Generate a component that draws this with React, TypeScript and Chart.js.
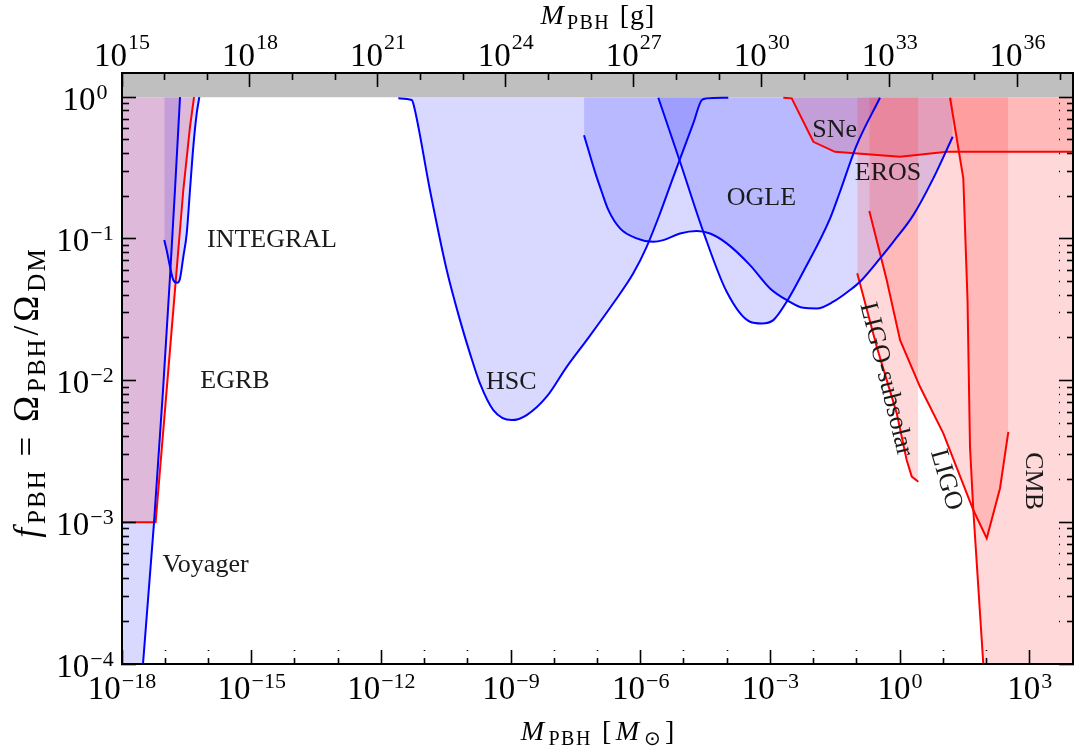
import React, { useEffect, useRef } from "react";
import { Chart, registerables } from "chart.js";

Chart.register(...registerables);

// ---------- axis ranges ----------
const X_MIN = 1e-18;
const X_MAX = 1e4;
const Y_MIN = 1e-4;
const Y_MAX = 1.48;
const GRAMS_PER_MSUN = 1.989e33;
const G_MIN = 1e15;

// ---------- tick definitions ----------
const xTickExps = [-18, -17, -16, -15, -14, -13, -12, -11, -10, -9, -8, -7, -6, -5, -4, -3, -2, -1, 0, 1, 2, 3, 4];
const xLabelExps = [-18, -15, -12, -9, -6, -3, 0, 3];
const gTickExps = [15, 16, 17, 18, 19, 20, 21, 22, 23, 24, 25, 26, 27, 28, 29, 30, 31, 32, 33, 34, 35, 36, 37];
const gLabelExps = [15, 18, 21, 24, 27, 30, 33, 36];
const yTickExps = [-4, -3, -2, -1];
const yTickMantissas = [1, 2, 3, 4, 5, 6, 7, 8, 9];
const yLabelExps = [-4, -3, -2, -1, 0];

// ---------- constraint curves (M in solar masses, f_PBH) ----------
const voyagerM = [3.06e-18, 5.5e-18, 8.9e-18, 1.29e-17, 1.68e-17, 2.2e-17];
const voyagerF = [1e-4, 9.9e-4, 8.6e-3, 0.054, 0.221, 1];

const egrbM = [1e-18, 6.0e-18, 1.08e-17, 1.68e-17, 2.62e-17, 3.74e-17, 4.64e-17];
const egrbF = [1e-3, 1e-3, 8.6e-3, 0.0435, 0.221, 0.617, 1];

const integralM = [9.5e-18, 1.08e-17, 1.29e-17, 1.54e-17, 1.9e-17, 2.2e-17, 2.62e-17, 3.14e-17, 3.74e-17, 4.46e-17, 5.35e-17, 6.14e-17];
const integralF = [0.098, 0.083, 0.0635, 0.0512, 0.049, 0.0526, 0.0747, 0.109, 0.221, 0.446, 0.767, 1];

const hscM = [2.47e-12, 5.04e-12, 5.48e-12, 1.33e-11, 3.25e-11, 6.59e-11, 1.12e-10, 1.91e-10, 3.89e-10, 1.04e-9, 2.3e-9, 6.68e-9, 1.94e-8, 5.62e-8, 2.32e-7, 6.73e-7, 1.37e-6, 2.79e-6, 5.68e-6, 9.66e-6, 1.64e-5, 2.58e-5, 3.36e-5, 1.06e-4];
const hscF = [0.98, 0.955, 0.903, 0.221, 0.0602, 0.0267, 0.01556, 9.55e-3, 6.19e-3, 5.26e-3, 5.71e-3, 7.69e-3, 0.0125, 0.0193, 0.0351, 0.0571, 0.0879, 0.151, 0.274, 0.423, 0.652, 0.953, 0.98, 0.99];

const ogleM = [2.55e-6, 8.11e-6, 2.81e-5, 9.75e-5, 3.37e-4, 6.3e-4, 1.17e-3, 2.38e-3, 5.77e-3, 0.0239, 0.0407, 0.099, 0.343];
const ogleF = [0.99, 0.35, 0.112, 0.0423, 0.026, 0.0253, 0.0267, 0.036, 0.0586, 0.139, 0.215, 0.458, 0.99];

const erosM = [4.88e-8, 8.75e-8, 1.25e-7, 1.78e-7, 3.32e-7, 8.07e-7, 1.95e-6, 3.33e-6, 8.11e-6, 1.97e-5, 4.01e-5, 9.75e-5, 3.37e-4, 9.8e-4, 2.38e-3, 5.77e-3, 0.01178, 0.0285, 0.0693, 0.118, 0.343, 0.697, 2.02, 5.86, 16.5];
const erosF = [0.539, 0.297, 0.215, 0.16, 0.1185, 0.1008, 0.0953, 0.098, 0.109, 0.1135, 0.109, 0.0929, 0.0653, 0.0447, 0.037, 0.0326, 0.0323, 0.036, 0.0435, 0.0498, 0.0728, 0.0953, 0.147, 0.267, 0.525];

const sneM = [1.99e-3, 3.11e-3, 9.84e-3, 0.0312, 1.0, 12.0, 1e4];
const sneF = [0.99, 0.98, 0.484, 0.411, 0.379, 0.411, 0.411];

const ligoSubM = [0.102, 0.288, 0.836, 1.42, 1.86, 2.64];
const ligoSubF = [0.0571, 0.0173, 5.87e-3, 2.75e-3, 2.1e-3, 1.93e-3];

const ligoM = [0.194, 0.49, 1.0, 2.89, 10.0, 49.4, 101, 205, 319];
const ligoF = [0.157, 0.0512, 0.0193, 9.04e-3, 4.24e-3, 1.22e-3, 7.7e-4, 1.74e-3, 4.35e-3];

const cmbM = [14.3, 29, 36.3, 41.4, 49.4, 84.1];
const cmbF = [0.99, 0.267, 0.037, 3.41e-3, 1.22e-3, 1e-4];

// ---------- region labels ----------
const regionLabels = [
  { text: "INTEGRAL", m: 2.95e-15, f: 0.088, rot: 0 },
  { text: "EGRB", m: 4.1e-16, f: 8.8e-3, rot: 0 },
  { text: "Voyager", m: 8.55e-17, f: 4.46e-4, rot: 0 },
  { text: "HSC", m: 1.01e-9, f: 8.67e-3, rot: 0 },
  { text: "OGLE", m: 6.2e-4, f: 0.173, rot: 0 },
  { text: "SNe", m: 0.0307, f: 0.525, rot: 0 },
  { text: "EROS", m: 0.525, f: 0.26, rot: 0 },
  { text: "LIGO-subsolar", m: 0.472, f: 0.0102, rot: 76 },
  { text: "LIGO", m: 11.5, f: 1.99e-3, rot: 74 },
  { text: "CMB", m: 1208, f: 1.95e-3, rot: 90 },
];

// ---------- styles ----------
const BLUE = "#0000ff";
const RED = "#ff0000";
const BLUE_FILL = "rgba(0,0,255,0.15)";
const RED_FILL = "rgba(255,0,0,0.15)";
const GRAY = "#bfbfbf";
const SERIF = '"Liberation Serif", "Times New Roman", serif';

const expOf = (v: number) => Math.round(Math.log10(v));
const isPow10 = (v: number) => Math.abs(Math.log10(v) - expOf(v)) < 1e-6;
const isMajor3 = (v: number) => isPow10(v) && expOf(v) % 3 === 0;

const pts = (ms: number[], fs: number[]) => ms.map((m, i) => ({ x: m, y: fs[i] }));

function fillSet(data: any[], color: string, order: number, smooth: boolean) {
  return {
    data,
    borderColor: "rgba(0,0,0,0)",
    borderWidth: 0,
    backgroundColor: color,
    fill: { value: 1 },
    pointRadius: 0,
    tension: 0,
    cubicInterpolationMode: smooth ? "monotone" : "default",
    order,
  };
}
function lineSet(data: any[], color: string, smooth: boolean) {
  return {
    data,
    borderColor: color,
    borderWidth: 2,
    backgroundColor: color,
    fill: false,
    pointRadius: 0,
    tension: 0,
    cubicInterpolationMode: smooth ? "monotone" : "default",
    order: 10,
  };
}

function buildDatasets() {
  const blue = [
    fillSet([{ x: X_MIN, y: Y_MIN }, ...pts(voyagerM, voyagerF)], BLUE_FILL, 50, false),
    fillSet(pts(integralM, integralF), BLUE_FILL, 50, true),
    fillSet(pts(hscM, hscF), BLUE_FILL, 50, true),
    fillSet(pts(ogleM, ogleF), BLUE_FILL, 50, true),
    fillSet(pts(erosM, erosF), BLUE_FILL, 50, true),
  ];
  const red = [
    fillSet(pts(egrbM, egrbF), RED_FILL, 40, false),
    fillSet(pts(sneM, sneF), RED_FILL, 40, false),
    fillSet(pts(ligoSubM, ligoSubF), RED_FILL, 40, false),
    fillSet(pts(ligoM, ligoF), RED_FILL, 40, false),
    fillSet([...pts(cmbM, cmbF), { x: X_MAX, y: Y_MIN }], RED_FILL, 40, false),
  ];
  const band = {
    data: [
      { x: X_MIN, y: Y_MAX },
      { x: X_MAX, y: Y_MAX },
    ],
    borderColor: "rgba(0,0,0,0)",
    borderWidth: 0,
    backgroundColor: GRAY,
    fill: { value: 1 },
    pointRadius: 0,
    order: 30,
  };
  const lines = [
    lineSet(pts(voyagerM, voyagerF), BLUE, false),
    lineSet(pts(integralM, integralF), BLUE, true),
    lineSet(pts(hscM, hscF), BLUE, true),
    lineSet(pts(ogleM, ogleF), BLUE, true),
    lineSet(pts(erosM, erosF), BLUE, true),
    lineSet(pts(egrbM, egrbF), RED, false),
    lineSet(pts(sneM, sneF), RED, false),
    lineSet(pts(ligoSubM, ligoSubF), RED, false),
    lineSet(pts(ligoM, ligoF), RED, false),
    lineSet(pts(cmbM, cmbF), RED, false),
  ];
  return [...blue, ...red, band, ...lines];
}

function gridOpts(isMajor: (v: number) => boolean, innerStart: boolean) {
  return {
    display: true,
    drawOnChartArea: false,
    drawTicks: true,
    tickLength: -14,
    tickWidth: 1.6,
    tickColor: "#000",
    z: 1,
    tickBorderDash: (c: any) => (c.tick && !isMajor(c.tick.value) ? [7, 7] : []),
    tickBorderDashOffset: (c: any) => (c.tick && !isMajor(c.tick.value) && innerStart ? 7 : 0),
  };
}
const borderOpts = { display: true, color: "#000", width: 2, z: 1 };
const hiddenTicks = { display: false, autoSkip: false, maxRotation: 0, minRotation: 0, padding: 0 };

// ---------- text helpers ----------
type Run = { t: string; font: string; dy: number; gap?: number };
function runsWidth(ctx: CanvasRenderingContext2D, runs: Run[], runGap: number) {
  let w = 0;
  runs.forEach((r, i) => {
    ctx.font = r.font;
    const g = r.gap || 0;
    for (const ch of r.t) w += ctx.measureText(ch).width + g;
    w -= g;
    if (i < runs.length - 1) w += runGap;
  });
  return w;
}
function drawRuns(ctx: CanvasRenderingContext2D, runs: Run[], cx: number, y: number, runGap: number) {
  let x = cx - runsWidth(ctx, runs, runGap) / 2;
  ctx.textAlign = "left";
  ctx.textBaseline = "alphabetic";
  runs.forEach((r, i) => {
    ctx.font = r.font;
    const g = r.gap || 0;
    const chars = Array.from(r.t);
    chars.forEach((ch, j) => {
      ctx.fillText(ch, x, y + r.dy);
      x += ctx.measureText(ch).width + (j < chars.length - 1 ? g : 0);
    });
    if (i < runs.length - 1) x += runGap;
  });
}

const BASE_FONT = `33px ${SERIF}`;
const SUP_FONT = `22px ${SERIF}`;
function drawPow(ctx: CanvasRenderingContext2D, e: number, x: number, baseY: number, raise: number, align: "center" | "right") {
  const base = "10";
  const ex = e < 0 ? "\u2212" + Math.abs(e) : String(e);
  ctx.font = BASE_FONT;
  const wb = ctx.measureText(base).width;
  ctx.font = SUP_FONT;
  const we = ctx.measureText(ex).width;
  const total = wb + 1 + we;
  const x0 = align === "center" ? x - total / 2 : x - total;
  ctx.textAlign = "left";
  ctx.textBaseline = "alphabetic";
  ctx.font = BASE_FONT;
  ctx.fillText(base, x0, baseY);
  ctx.font = SUP_FONT;
  ctx.fillText(ex, x0 + wb + 1, baseY - raise);
}

const tickLabelPlugin = {
  id: "tickLabels",
  afterDraw(chart: any) {
    const ctx = chart.ctx as CanvasRenderingContext2D;
    const a = chart.chartArea;
    const { x, x2, y } = chart.scales;
    ctx.save();
    ctx.fillStyle = "#000";
    for (const e of xLabelExps) drawPow(ctx, e, x.getPixelForValue(10 ** e), a.bottom + 35, 11, "center");
    for (const e of gLabelExps) drawPow(ctx, e, x2.getPixelForValue(10 ** e), a.top - 7, 17, "center");
    for (const e of yLabelExps) drawPow(ctx, e, a.left - 37, y.getPixelForValue(10 ** e) + 12.5, 11, "center");
    ctx.restore();
  },
};

const labelPlugin = {
  id: "regionLabels",
  afterDatasetsDraw(chart: any) {
    const ctx = chart.ctx as CanvasRenderingContext2D;
    const xs = chart.scales.x;
    const ys = chart.scales.y;
    ctx.save();
    ctx.fillStyle = "#1a1a1a";
    ctx.font = `26px ${SERIF}`;
    for (const l of regionLabels) {
      const px = xs.getPixelForValue(l.m);
      const py = ys.getPixelForValue(l.f);
      ctx.save();
      ctx.translate(px, py);
      ctx.textAlign = "center";
      if (l.rot) {
        ctx.rotate((l.rot * Math.PI) / 180);
        ctx.textBaseline = "middle";
      } else {
        ctx.textBaseline = "alphabetic";
      }
      ctx.fillText(l.text, 0, 0);
      ctx.restore();
    }
    ctx.restore();
  },
};

const titlePlugin = {
  id: "axisTitles",
  afterDraw(chart: any) {
    const ctx = chart.ctx as CanvasRenderingContext2D;
    const a = chart.chartArea;
    const cx = (a.left + a.right) / 2;
    const MAIN = `28px ${SERIF}`;
    const ITAL = `italic 28px ${SERIF}`;
    const SUBF = `20px ${SERIF}`;
    ctx.save();
    ctx.fillStyle = "#000";
    drawRuns(
      ctx,
      [
        { t: "M", font: ITAL, dy: 0 },
        { t: "PBH", font: SUBF, dy: 5, gap: 1.5 },
        { t: " [", font: MAIN, dy: 0 },
        { t: "M", font: ITAL, dy: 0 },
        { t: "⊙", font: SUBF, dy: 5 },
        { t: "]", font: MAIN, dy: 0 },
      ],
      cx,
      740,
      4.5
    );
    drawRuns(
      ctx,
      [
        { t: "M", font: ITAL, dy: 0 },
        { t: "PBH", font: SUBF, dy: 5, gap: 1.5 },
        { t: " [g]", font: MAIN, dy: 0, gap: 1 },
      ],
      cx,
      24,
      3
    );
    const YM = `35px ${SERIF}`;
    const YI = `italic 35px ${SERIF}`;
    const YS = `25px ${SERIF}`;
    ctx.translate(38, (a.top + a.bottom) / 2 + 25);
    ctx.rotate(-Math.PI / 2);
    drawRuns(
      ctx,
      [
        { t: "f", font: YI, dy: 0 },
        { t: "PBH", font: YS, dy: 7, gap: 2 },
        { t: " = ", font: YM, dy: 0, gap: 2 },
        { t: "Ω", font: YM, dy: 0 },
        { t: "PBH", font: YS, dy: 7, gap: 2 },
        { t: "/", font: YM, dy: 0 },
        { t: "Ω", font: YM, dy: 0 },
        { t: "DM", font: YS, dy: 7, gap: 2 },
      ],
      0,
      0,
      4
    );
    ctx.restore();
  },
};

export default function App() {
  const ref = useRef<HTMLCanvasElement>(null);
  useEffect(() => {
    const yTicks: number[] = [];
    for (const e of yTickExps) for (const m of yTickMantissas) yTicks.push(m * 10 ** e);
    yTicks.push(1);

    const fixH = (h: number) => (s: any) => {
      s.height = h;
      s.paddingLeft = 0;
      s.paddingRight = 0;
    };
    const fixW = (w: number) => (s: any) => {
      s.width = w;
      s.paddingTop = 0;
      s.paddingBottom = 0;
    };

    const chart = new Chart(ref.current as HTMLCanvasElement, {
      type: "line",
      data: { datasets: buildDatasets() as any },
      plugins: [labelPlugin, tickLabelPlugin, titlePlugin],
      options: {
        responsive: false,
        animation: false,
        events: [],
        layout: { padding: { left: 0, right: 1, top: 0, bottom: 0 } },
        plugins: { legend: { display: false }, tooltip: { enabled: false } },
        scales: {
          x: {
            type: "logarithmic",
            position: "bottom",
            min: X_MIN,
            max: X_MAX,
            z: 1,
            afterBuildTicks: (s: any) => {
              s.ticks = xTickExps.map((e) => ({ value: 10 ** e }));
            },
            afterFit: fixH(90),
            border: borderOpts,
            grid: gridOpts(isMajor3, false),
            ticks: hiddenTicks,
          },
          x2: {
            type: "logarithmic",
            position: "top",
            min: G_MIN,
            max: X_MAX * GRAMS_PER_MSUN,
            z: 1,
            afterBuildTicks: (s: any) => {
              s.ticks = gTickExps.map((e) => ({ value: 10 ** e }));
            },
            afterFit: fixH(73),
            border: borderOpts,
            grid: gridOpts(isMajor3, true),
            ticks: hiddenTicks,
          },
          y: {
            type: "logarithmic",
            position: "left",
            min: Y_MIN,
            max: Y_MAX,
            z: 1,
            afterBuildTicks: (s: any) => {
              s.ticks = yTicks.map((v) => ({ value: v }));
            },
            afterFit: fixW(122),
            border: borderOpts,
            grid: gridOpts(isPow10, true),
            ticks: hiddenTicks,
          },
          y2: {
            type: "logarithmic",
            position: "right",
            min: Y_MIN,
            max: Y_MAX,
            z: 1,
            afterBuildTicks: (s: any) => {
              s.ticks = yTicks.map((v) => ({ value: v }));
            },
            afterFit: fixW(0),
            border: borderOpts,
            grid: gridOpts(isPow10, false),
            ticks: hiddenTicks,
          },
        },
      } as any,
    });
    return () => chart.destroy();
  }, []);

  return (
    <div style={{ position: "absolute", left: 0, top: 0, width: 1074, height: 754, background: "#fff" }}>
      <canvas ref={ref} width={1074} height={754} style={{ display: "block" }} />
    </div>
  );
}
